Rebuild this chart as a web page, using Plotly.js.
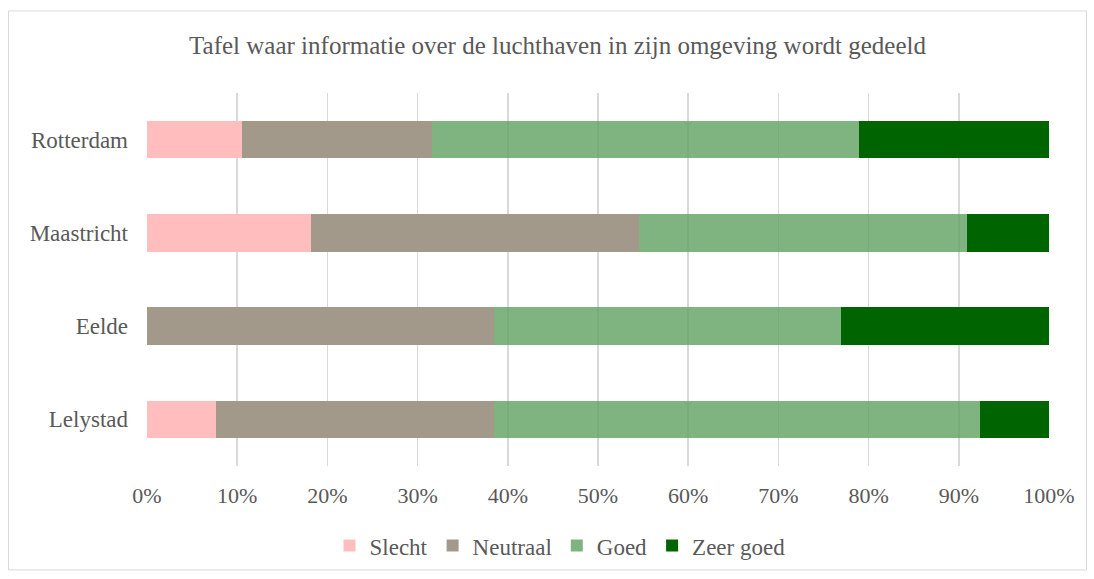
<!DOCTYPE html>
<html>
<head>
<meta charset="utf-8">
<script src="https://cdn.plot.ly/plotly-3.0.1.min.js"></script>
<style>html,body{margin:0;padding:0;background:#fff;}#chart{width:1094px;height:579px;}</style>
</head>
<body>
<div id="chart"></div>
<script>
const categories = ["Lelystad", "Eelde", "Maastricht", "Rotterdam"];
const seriesNames = ["Slecht", "Neutraal", "Goed", "Zeer goed"];
const slecht = [1, 0, 2, 2];
const neutraal = [4, 5, 4, 4];
const goed = [7, 5, 4, 9];
const zeerGoed = [1, 3, 1, 4];
const colors = ["#FFBDBD", "#A2998A", "rgba(95,160,95,0.8)", "#006400"];
const xTickVals = [0, 0.1, 0.2, 0.3, 0.4, 0.5, 0.6, 0.7, 0.8, 0.9, 1.0];

const font = "'Liberation Serif', 'DejaVu Serif', serif";
const txt = "#595959";
const allSeries = [slecht, neutraal, goed, zeerGoed];

const data = allSeries.map((vals, i) => ({
  type: "bar",
  orientation: "h",
  name: seriesNames[i],
  y: categories,
  x: vals,
  marker: {color: colors[i], line: {width: 0}},
  hoverinfo: "x+y+name"
}));

const L = 147, R = 1049, T = 93, B = 468;
const pw = R - L, ph = B - T;
const px = v => (v - L) / pw;
const py = v => (B - v) / ph;

const layout = {
  width: 1094, height: 579,
  margin: {l: L, r: 1094 - R, t: T, b: 579 - B, pad: 0},
  paper_bgcolor: "#fff", plot_bgcolor: "#fff",
  barmode: "stack", barnorm: "fraction", bargap: 0.6,
  font: {family: font, color: txt, size: 22},
  title: {text: "Tafel waar informatie over de luchthaven in zijn omgeving wordt gedeeld",
          font: {family: font, size: 25, color: txt},
          x: 557.5 / 1094, xref: "container", xanchor: "center",
          y: 1 - 45 / 579, yref: "container", yanchor: "middle"},
  xaxis: {range: [0, 1], tickvals: xTickVals, tickformat: ".0%",
          showgrid: true, gridcolor: "#D9D9D9", gridwidth: 1.5,
          zeroline: false, showline: false, ticks: "",
          ticklabelstandoff: 14, fixedrange: true,
          tickfont: {family: font, size: 22, color: txt}},
  yaxis: {categoryorder: "array", categoryarray: categories,
          showgrid: false, zeroline: false, showline: false, ticks: "",
          ticklabelstandoff: 18, fixedrange: true,
          tickfont: {family: font, size: 23, color: txt}},
  legend: {orientation: "h", x: px(560), xanchor: "center", y: py(548), yanchor: "middle",
           traceorder: "normal", font: {family: font, size: 23, color: txt},
           itemwidth: 30, bgcolor: "rgba(0,0,0,0)"},
  shapes: [{type: "rect", xref: "paper", yref: "paper",
            x0: px(8.5), x1: px(1086.5), y0: py(572.5), y1: py(10.5),
            line: {color: "#D9D9D9", width: 1}, fillcolor: "rgba(0,0,0,0)", layer: "below"}],
  showlegend: true
};

Plotly.newPlot("chart", data, layout, {displayModeBar: false, staticPlot: true});
</script>
</body>
</html>
